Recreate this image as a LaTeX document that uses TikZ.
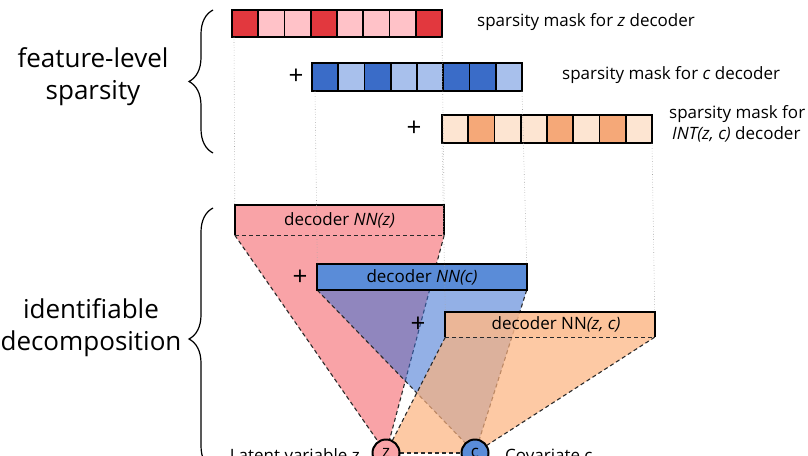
\documentclass[tikz,border=0pt]{standalone}
\usepackage{fontspec}
\setmainfont{Open Sans}
\usetikzlibrary{decorations.pathreplacing}
\definecolor{redD}{HTML}{E2383E}
\definecolor{redL}{HTML}{FFC2C8}
\definecolor{blueD}{HTML}{3A6CC8}
\definecolor{blueL}{HTML}{A8C0EC}
\definecolor{orD}{HTML}{F5A878}
\definecolor{orL}{HTML}{FDE5D2}
\definecolor{redF}{HTML}{F9A3A7}
\definecolor{blueF}{HTML}{5A8CD8}
\definecolor{blueT}{HTML}{3B6FD2}
\definecolor{orT}{HTML}{FCB27E}
\definecolor{orF}{HTML}{FBB88A}
\definecolor{edge}{HTML}{2A2A2A}
\begin{document}
\begin{tikzpicture}[x=1pt,y=-1pt,
  cellbox/.style={draw=black,line width=1.8pt},
  guide/.style={draw=gray!70,dotted,line width=0.6pt},
  smallfont/.style={font=\fontsize{17}{20}\selectfont},
  masklabel/.style={anchor=west,smallfont,inner sep=0pt},
  sidelabel/.style={align=center,font=\fontsize{26}{32}\selectfont,inner sep=0pt},
  decbox/.style={minimum width=209pt,inner sep=0pt},
  decedge/.style={draw=black,line width=1.8pt},
  coneedge/.style={draw=edge,line width=1.1pt,dash pattern=on 4pt off 3pt},
  plussign/.style={font=\fontsize{26}{26}\selectfont,inner sep=0pt},
  varnode/.style={circle,draw=black,line width=2pt,minimum size=27pt,inner sep=0pt,font=\fontsize{17}{17}\selectfont},
  bracestyle/.style={decorate,decoration={brace,amplitude=24pt,mirror},line width=1.2pt}
]
\useasboundingbox (0,0) rectangle (808,455);

% ---------- masks ----------
\foreach \c [count=\i from 0] in {redD,redL,redL,redD,redL,redL,redL,redD}
  \draw[cellbox,fill=\c] (232+\i*26.25,10) rectangle ++(26.25,27);
\foreach \c [count=\i from 0] in {blueD,blueL,blueD,blueL,blueL,blueD,blueD,blueL}
  \draw[cellbox,fill=\c] (312+\i*26.25,63) rectangle ++(26.25,28);
\foreach \c [count=\i from 0] in {orL,orD,orL,orL,orD,orL,orD,orL}
  \draw[cellbox,fill=\c] (442+\i*26.25,115) rectangle ++(26.25,28);

\coordinate (mr1) at (234,37);  \coordinate (mr2) at (442,37);
\coordinate (mb1) at (315,91);  \coordinate (mb2) at (522,91);
\coordinate (mo1) at (442,143); \coordinate (mo2) at (652,143);

\node[plussign] (p1) at (296,77) {+};
\node[plussign] (p2) at (414,129) {+};

\node[masklabel] (l1) at (477,22) {sparsity mask for \textit{z} decoder};
\node[masklabel] (l2) at (562,75) {sparsity mask for \textit{c} decoder};
\node[masklabel] (l3) at (669,114) {sparsity mask for};
\node[masklabel] (l4) at (672,134) {\textit{INT(z, c)} decoder};

% ---------- side labels and braces ----------
\node[sidelabel] (s1) at (93,77) {feature-level\\sparsity};
\node[sidelabel] (s2) at (91,328) {identifiable\\decomposition};
\draw[bracestyle] (213,10) -- (213,153);
\draw[bracestyle] (213,208) -- (213,470);

% ---------- variables (positions) ----------
\coordinate (zc) at (386,453);
\coordinate (cc) at (475,453);

% ---------- decoder boxes positions ----------
\node[decbox,minimum height=30pt] (dz) at (339.5,220) {};
\node[decbox,minimum height=26pt] (dc) at (422,277) {};
\node[decbox,minimum height=25pt] (di) at (550,324.5) {};

% red cone
\fill[redF] (dz.south west) -- (dz.south east) -- (zc) -- cycle;
\draw[coneedge] (dz.south west) -- (zc);
\draw[coneedge] (dz.south east) -- (zc);
\fill[redF] (dz.south west) rectangle (dz.north east);
\draw[decedge] (dz.south west) -- (dz.north west) -- (dz.north east) -- (dz.south east);
\draw[coneedge] (dz.south west) -- (dz.south east);
\node[smallfont] (tz) at (dz) {decoder \textit{NN(z)}};

% blue cone
\fill[blueT,opacity=0.55] (dc.south west) -- (dc.south east) -- (cc) -- cycle;
\draw[coneedge] (dc.south west) -- (cc);
\draw[coneedge] (dc.south east) -- (cc);
\fill[blueF] (dc.south west) rectangle (dc.north east);
\draw[decedge] (dc.south west) rectangle (dc.north east);
\node[smallfont] (tc) at (dc) {decoder \textit{NN(c)}};
\node[plussign] (p3) at (300,278) {+};

% orange cone
\fill[orT,opacity=0.7] (di.south west) -- (di.south east) -- (cc) -- (zc) -- cycle;
\draw[coneedge] (di.south west) -- (zc);
\draw[coneedge] (di.south east) -- (cc);
\draw[coneedge] (zc) -- (cc);
\fill[orF,opacity=0.85] (di.south west) rectangle (di.north east);
\draw[decedge] (di.south west) -- (di.north west) -- (di.north east) -- (di.south east);
\draw[coneedge] (di.south west) -- (di.south east);
\node[smallfont] (ti) at ([xshift=6pt]di.center) {decoder NN\textit{(z, c)}};
\node[plussign] (p4) at (418,325) {+};

% guides
\draw[guide] (mr1) -- (dz.north west);
\draw[guide] (mr2) -- (dz.north east);
\draw[guide] (mb1) -- (dc.north west);
\draw[guide] (mb2) -- (dc.north east);
\draw[guide] (mo1) -- (di.north west);
\draw[guide] (mo2) -- (di.north east);

% variable nodes
\node[varnode,fill=redF] (z) at (zc) {z};
\node[varnode,fill=blueF] (c) at (cc) {c};
\node[anchor=east,smallfont,inner sep=0pt] (lz) at (360,455) {Latent variable z};
\node[anchor=west,smallfont,inner sep=0pt] (lc) at (505,455) {Covariate c};
\end{tikzpicture}
\end{document}
